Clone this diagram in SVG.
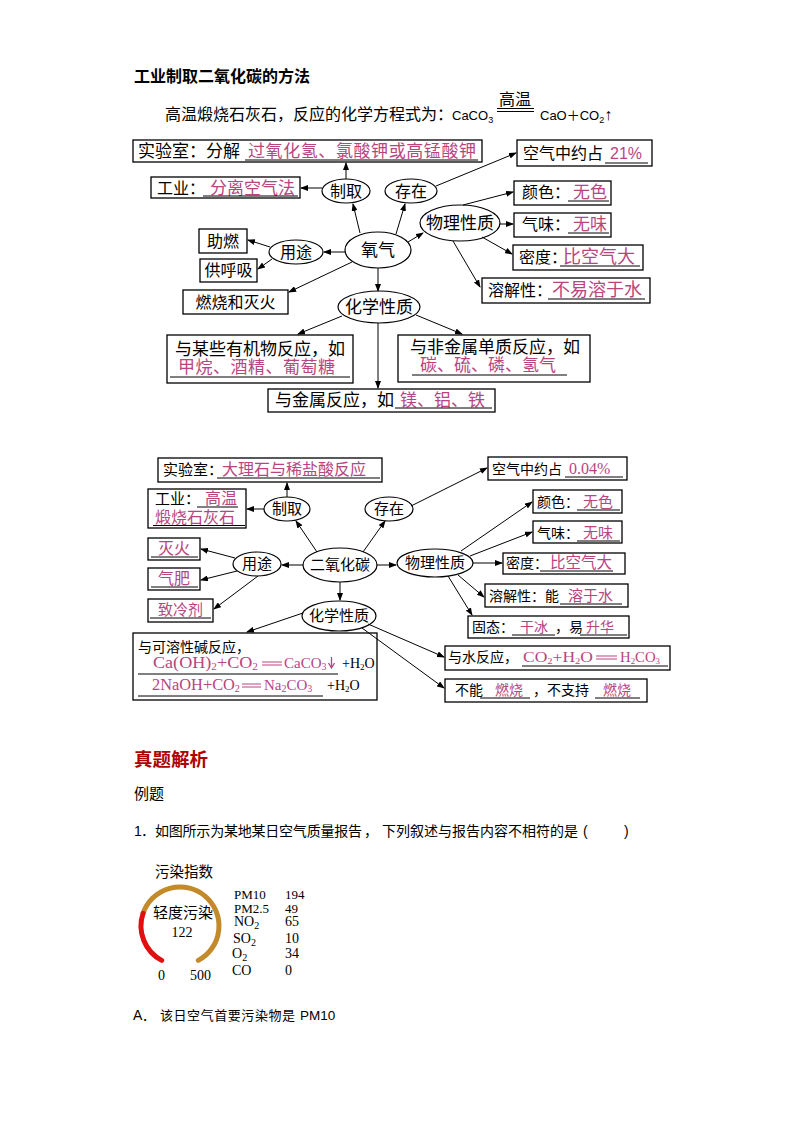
<svg xmlns="http://www.w3.org/2000/svg" width="794" height="1123" viewBox="0 0 794 1123">
<style>
.bx{fill:#fff;stroke:#000;stroke-width:1.3}
.el{fill:#fff;stroke:#000;stroke-width:1.2}
.t{font-family:"Liberation Serif","Noto Sans CJK SC",serif;fill:#000}
.s{font-family:"Liberation Sans","Noto Sans CJK SC",sans-serif;fill:#000}
.m{font-family:"Liberation Sans","Noto Sans CJK SC",sans-serif;fill:#b8457f}
.mc{font-family:"Liberation Serif","Noto Sans CJK SC",serif;fill:#b8457f}
.c{text-anchor:middle}
.ul{stroke:#000;stroke-width:1}
.cn line{stroke:#000;stroke-width:1;marker-end:url(#ah)}
</style>
<defs>
<marker id="ah" markerUnits="userSpaceOnUse" markerWidth="8" markerHeight="6" refX="7" refY="3" orient="auto">
<path d="M0,0 L8,3 L0,6 Z" fill="#000"/>
</marker>
</defs>
<rect width="794" height="1123" fill="#fff"/>

<!-- header -->
<g id="header">
<text class="s" x="134" y="82" font-size="16" font-weight="bold">工业制取二氧化碳的方法</text>
<text class="s" x="165" y="120" font-size="16">高温煅烧石灰石，反应的化学方程式为：</text>
<text class="s" x="452" y="120" font-size="13">CaCO<tspan dy="3" font-size="9">3</tspan></text>
<text class="s" x="515" y="105" font-size="16" text-anchor="middle">高温</text>
<line class="ul" x1="497" y1="108.5" x2="534" y2="108.5"/>
<line class="ul" x1="497" y1="111.5" x2="534" y2="111.5"/>
<text class="s" x="540" y="120" font-size="13">CaO＋CO<tspan dy="3" font-size="9">2</tspan><tspan dy="-3" font-size="16">↑</tspan></text>
</g>

<!-- oxygen diagram nodes -->
<g id="o-lab"><rect class="bx" x="133" y="140" width="349" height="22"/>
<text class="t" x="138" y="157" font-size="17">实验室：分解</text>
<text class="m" x="248" y="157" font-size="17" textLength="228">过氧化氢、氯酸钾或高锰酸钾</text>
<line class="ul" x1="245" y1="160" x2="478" y2="160"/></g>
<g id="o-ind"><rect class="bx" x="151" y="177" width="149" height="21" stroke-width="1.6"/>
<text class="t" x="157" y="194" font-size="16">工业：</text>
<text class="m" x="210" y="194" font-size="17">分离空气法</text>
<line class="ul" x1="203" y1="196" x2="298" y2="196"/></g>
<g id="o-zhiqu"><ellipse class="el" cx="346" cy="191" rx="24" ry="12"/><text class="t c" x="346" y="197" font-size="16">制取</text></g>
<g id="o-cunzai"><ellipse class="el" cx="411" cy="191" rx="26" ry="12"/><text class="t c" x="411" y="197" font-size="16">存在</text></g>
<g id="o-o2"><ellipse class="el" cx="378" cy="250" rx="33" ry="18"/><text class="t c" x="378" y="256" font-size="17">氧气</text></g>
<g id="o-yongtu"><ellipse class="el" cx="296" cy="252" rx="27" ry="12"/><text class="t c" x="296" y="258" font-size="16">用途</text></g>
<g id="o-zhuran"><rect class="bx" x="199" y="229" width="48" height="24"/><text class="t c" x="223" y="247" font-size="16">助燃</text></g>
<g id="o-huxi"><rect class="bx" x="200" y="259" width="57" height="23"/><text class="t c" x="228.5" y="276" font-size="16">供呼吸</text></g>
<g id="o-ranshao"><rect class="bx" x="183" y="290" width="105" height="24"/><text class="t c" x="235.5" y="308" font-size="16">燃烧和灭火</text></g>
<g id="o-wuli"><ellipse class="el" cx="460" cy="223" rx="40" ry="18"/><text class="t c" x="460" y="229" font-size="17">物理性质</text></g>
<g id="o-air"><rect class="bx" x="517" y="140" width="135" height="26"/>
<text class="t" x="523" y="159" font-size="16">空气中约占</text>
<text class="m" x="610" y="159" font-size="16">21%</text>
<line class="ul" x1="605" y1="163" x2="648" y2="163"/></g>
<g id="o-color"><rect class="bx" x="514" y="181" width="97" height="24"/>
<text class="t" x="522" y="198" font-size="16">颜色：</text>
<text class="m" x="573" y="198" font-size="17">无色</text>
<line class="ul" x1="568" y1="201" x2="609" y2="201"/></g>
<g id="o-smell"><rect class="bx" x="514" y="213" width="97" height="24"/>
<text class="t" x="522" y="230" font-size="16">气味：</text>
<text class="m" x="573" y="230" font-size="17">无味</text>
<line class="ul" x1="568" y1="233" x2="609" y2="233"/></g>
<g id="o-density"><rect class="bx" x="513" y="245" width="130" height="25"/>
<text class="t" x="519" y="263" font-size="16">密度：</text>
<text class="m" x="563" y="263" font-size="18">比空气大</text>
<line class="ul" x1="560" y1="266" x2="640" y2="266"/></g>
<g id="o-sol"><rect class="bx" x="482" y="278" width="168" height="25"/>
<text class="t" x="488" y="296" font-size="16">溶解性：</text>
<text class="m" x="552" y="296" font-size="18">不易溶于水</text>
<line class="ul" x1="548" y1="299" x2="645" y2="299"/></g>
<g id="o-huaxue"><ellipse class="el" cx="379" cy="307" rx="41" ry="16"/><text class="t c" x="379" y="313" font-size="17">化学性质</text></g>
<g id="o-organic"><rect class="bx" x="167" y="335" width="186" height="48"/>
<text class="t" x="175" y="355" font-size="17">与某些有机物反应，如</text>
<text class="m" x="178" y="373" font-size="17" textLength="157">甲烷、酒精、葡萄糖</text>
<line class="ul" x1="170" y1="377" x2="350" y2="377"/></g>
<g id="o-nonmetal"><rect class="bx" x="398" y="335" width="192" height="47"/>
<text class="t" x="410" y="353" font-size="17">与非金属单质反应，如</text>
<text class="m" x="420" y="371" font-size="17">碳、硫、磷、氢气</text>
<line class="ul" x1="412" y1="375" x2="567" y2="375"/></g>
<g id="o-metal"><rect class="bx" x="268" y="389" width="227" height="23"/>
<text class="t" x="275" y="406" font-size="17">与金属反应，如</text>
<text class="m" x="400" y="406" font-size="17">镁、铝、铁</text>
<line class="ul" x1="395" y1="408" x2="492" y2="408"/></g>

<!-- CO2 diagram nodes -->
<g id="c-lab"><rect class="bx" x="158" y="458" width="224" height="24"/>
<text class="t" x="163" y="475" font-size="15">实验室：</text>
<text class="m" x="222" y="475" font-size="16">大理石与稀盐酸反应</text>
<line class="ul" x1="217" y1="478" x2="380" y2="478"/></g>
<g id="c-ind"><rect class="bx" x="148" y="489" width="98" height="39" stroke-width="1.6"/>
<text class="t" x="155" y="504" font-size="15">工业：</text>
<text class="m" x="205" y="504" font-size="16">高温</text>
<line class="ul" x1="197" y1="507" x2="238" y2="507"/>
<text class="m" x="155" y="523" font-size="16">煅烧石灰石</text>
<line class="ul" x1="153" y1="525.5" x2="245" y2="525.5"/></g>
<g id="c-zhiqu"><ellipse class="el" cx="287" cy="509" rx="23" ry="12"/><text class="t c" x="287" y="514" font-size="15">制取</text></g>
<g id="c-cunzai"><ellipse class="el" cx="389" cy="509" rx="24" ry="12"/><text class="t c" x="389" y="514" font-size="15">存在</text></g>
<g id="c-co2"><ellipse class="el" cx="340" cy="565" rx="37" ry="17"/><text class="t c" x="340" y="570" font-size="15">二氧化碳</text></g>
<g id="c-yongtu"><ellipse class="el" cx="257" cy="564" rx="24" ry="12"/><text class="t c" x="257" y="569" font-size="15">用途</text></g>
<g id="c-wuli"><ellipse class="el" cx="435" cy="563" rx="38" ry="14"/><text class="t c" x="435" y="568" font-size="15">物理性质</text></g>
<g id="c-miehuo"><rect class="bx" x="148" y="538" width="52" height="22"/>
<text class="m" x="158" y="554" font-size="16">灭火</text>
<line class="ul" x1="151" y1="557" x2="198" y2="557"/></g>
<g id="c-qifei"><rect class="bx" x="148" y="568" width="52" height="22"/>
<text class="m" x="158" y="584" font-size="16">气肥</text>
<line class="ul" x1="151" y1="587" x2="198" y2="587"/></g>
<g id="c-zhileng"><rect class="bx" x="148" y="599" width="65" height="23"/>
<text class="m" x="158" y="615" font-size="15">致冷剂</text>
<line class="ul" x1="150" y1="618" x2="211" y2="618"/></g>
<g id="c-air"><rect class="bx" x="488" y="457" width="139" height="23"/>
<text class="t" x="492" y="474" font-size="14">空气中约占</text>
<text class="mc" x="569" y="474" font-size="16">0.04%</text>
<line class="ul" x1="565" y1="477" x2="623" y2="477"/></g>
<g id="c-color"><rect class="bx" x="533" y="490" width="89" height="23"/>
<text class="t" x="537" y="507" font-size="14">颜色：</text>
<text class="m" x="583" y="507" font-size="15">无色</text>
<line class="ul" x1="577" y1="510" x2="620" y2="510"/></g>
<g id="c-smell"><rect class="bx" x="533" y="521" width="89" height="22"/>
<text class="t" x="537" y="538" font-size="14">气味：</text>
<text class="m" x="583" y="538" font-size="15">无味</text>
<line class="ul" x1="577" y1="541" x2="620" y2="541"/></g>
<g id="c-density"><rect class="bx" x="503" y="553" width="122" height="21"/>
<text class="t" x="506" y="568" font-size="14">密度：</text>
<text class="m" x="550" y="568" font-size="15.5">比空气大</text>
<line class="ul" x1="540" y1="571" x2="613" y2="571"/></g>
<g id="c-sol"><rect class="bx" x="485" y="584" width="143" height="23"/>
<text class="t" x="489" y="601" font-size="14">溶解性：能</text>
<text class="m" x="568" y="601" font-size="15">溶于水</text>
<line class="ul" x1="560" y1="604" x2="622" y2="604"/></g>
<g id="c-solid"><rect class="bx" x="468" y="616" width="161" height="22"/>
<text class="t" x="472" y="632" font-size="14">固态：</text>
<text class="m" x="520" y="632" font-size="14">干冰</text>
<line class="ul" x1="512" y1="635" x2="555" y2="635"/>
<text class="t" x="555" y="632" font-size="14">，易</text>
<text class="m" x="586" y="632" font-size="14">升华</text>
<line class="ul" x1="580" y1="635" x2="627" y2="635"/></g>
<g id="c-water"><rect class="bx" x="445" y="646" width="225" height="24"/>
<text class="t" x="448" y="662" font-size="14">与水反应，</text>
<text class="mc" x="523" y="662" font-size="15" textLength="70" lengthAdjust="spacingAndGlyphs">CO<tspan dy="2" font-size="9">2</tspan><tspan dy="-2">+H</tspan><tspan dy="2" font-size="9">2</tspan><tspan dy="-2">O</tspan></text>
<line stroke="#b8457f" stroke-width="1" x1="596" y1="656" x2="617" y2="656"/>
<line stroke="#b8457f" stroke-width="1" x1="596" y1="659" x2="617" y2="659"/>
<text class="mc" x="620" y="662" font-size="15" textLength="40" lengthAdjust="spacingAndGlyphs">H<tspan dy="2" font-size="9">2</tspan><tspan dy="-2">CO</tspan><tspan dy="2" font-size="9">3</tspan></text>
<line class="ul" x1="522" y1="666" x2="668" y2="666"/></g>
<g id="c-burn"><rect class="bx" x="445" y="679" width="202" height="23"/>
<text class="t" x="455" y="695" font-size="14">不能</text>
<text class="m" x="495" y="695" font-size="14">燃烧</text>
<line class="ul" x1="480" y1="698" x2="530" y2="698"/>
<text class="t" x="533" y="695" font-size="14">，不支持</text>
<text class="m" x="603" y="695" font-size="14">燃烧</text>
<line class="ul" x1="595" y1="698" x2="640" y2="698"/></g>
<g id="c-huaxue"><ellipse class="el" cx="339" cy="616" rx="37" ry="15"/><text class="t c" x="339" y="621" font-size="15">化学性质</text></g>
<g id="c-base"><rect class="bx" x="133" y="633" width="244" height="67"/>
<text class="t" x="138" y="652" font-size="14">与可溶性碱反应，</text>
<text class="mc" x="153" y="668" font-size="16" textLength="105" lengthAdjust="spacingAndGlyphs">Ca(OH)<tspan dy="2" font-size="10">2</tspan><tspan dy="-2">+CO</tspan><tspan dy="2" font-size="10">2</tspan></text>
<line stroke="#b8457f" x1="262" y1="662" x2="282" y2="662"/>
<line stroke="#b8457f" x1="262" y1="665" x2="282" y2="665"/>
<text class="mc" x="284" y="668" font-size="15">CaCO<tspan dy="2" font-size="10">3</tspan></text>
<path d="M331.5,657 V667 M328.5,663 L331.5,668 L334.5,663" stroke="#b8457f" stroke-width="1.3" fill="none"/>
<line class="ul" x1="138" y1="674" x2="338" y2="674"/>
<text class="t" x="342" y="668" font-size="14">+H<tspan dy="2" font-size="9">2</tspan><tspan dy="-2">O</tspan></text>
<text class="mc" x="152" y="690" font-size="16" textLength="88" lengthAdjust="spacingAndGlyphs">2NaOH+CO<tspan dy="2" font-size="10">2</tspan></text>
<line stroke="#b8457f" x1="242" y1="684" x2="261" y2="684"/>
<line stroke="#b8457f" x1="242" y1="687" x2="261" y2="687"/>
<text class="mc" x="264" y="690" font-size="15">Na<tspan dy="2" font-size="10">2</tspan><tspan dy="-2">CO</tspan><tspan dy="2" font-size="10">3</tspan></text>
<line class="ul" x1="138" y1="696" x2="323" y2="696"/>
<text class="t" x="327" y="690" font-size="14">+H<tspan dy="2" font-size="9">2</tspan><tspan dy="-2">O</tspan></text></g>

<!-- connectors -->
<g id="connectors" class="cn">
<line x1="346" y1="179" x2="346" y2="163"/>
<line x1="322" y1="188" x2="301" y2="188"/>
<line x1="360" y1="233" x2="353" y2="204"/>
<line x1="396" y1="234" x2="405" y2="204"/>
<line x1="436" y1="186" x2="516" y2="153"/>
<line x1="408" y1="242" x2="423" y2="233"/>
<line x1="463" y1="205" x2="513" y2="192"/>
<line x1="500" y1="224" x2="513" y2="224"/>
<line x1="482" y1="237" x2="512" y2="254"/>
<line x1="453" y1="241" x2="480" y2="287"/>
<line x1="345" y1="252" x2="324" y2="252"/>
<line x1="270" y1="247" x2="248" y2="240"/>
<line x1="272" y1="259" x2="258" y2="269"/>
<line x1="352" y1="262" x2="289" y2="292"/>
<line x1="378" y1="268" x2="378" y2="291"/>
<line x1="342" y1="316" x2="298" y2="334"/>
<line x1="416" y1="315" x2="462" y2="334"/>
<line x1="378" y1="323" x2="378" y2="388"/>

<line x1="287" y1="497" x2="287" y2="483"/>
<line x1="264" y1="509" x2="247" y2="509"/>
<line x1="317" y1="552" x2="296" y2="521"/>
<line x1="363" y1="552" x2="385" y2="521"/>
<line x1="411" y1="506" x2="487" y2="468"/>
<line x1="303" y1="565" x2="282" y2="565"/>
<line x1="235" y1="558" x2="201" y2="549"/>
<line x1="237" y1="571" x2="201" y2="580"/>
<line x1="258" y1="576" x2="214" y2="609"/>
<line x1="377" y1="565" x2="396" y2="565"/>
<line x1="461" y1="551" x2="532" y2="502"/>
<line x1="470" y1="556" x2="532" y2="532"/>
<line x1="473" y1="563" x2="502" y2="563"/>
<line x1="458" y1="575" x2="484" y2="597"/>
<line x1="448" y1="576" x2="472" y2="615"/>
<line x1="340" y1="582" x2="340" y2="600"/>
<line x1="303" y1="613" x2="247" y2="632"/>
<line x1="368" y1="624" x2="444" y2="657"/>
<line x1="362" y1="628" x2="444" y2="688"/>
</g>

<!-- exercise section -->
<g id="section">
<text class="s" x="134" y="766" font-size="18.5" font-weight="bold" style="fill:#b00000">真题解析</text>
<text class="s" x="134" y="799" font-size="15">例题</text>
<text class="s" x="134" y="836" font-size="14">1</text>
<text class="s" x="141" y="836" font-size="14">．</text>
<text class="s" x="155" y="836" font-size="14" textLength="207">如图所示为某地某日空气质量报告</text>
<text class="s" x="364" y="836" font-size="14">，</text>
<text class="s" x="382" y="836" font-size="14" textLength="196">下列叙述与报告内容不相符的是</text>
<text class="s" x="583" y="836" font-size="14">(</text>
<text class="s" x="624" y="836" font-size="14">)</text>
</g>

<g id="gauge">
<text class="s" x="155" y="877" font-size="14.5">污染指数</text>
<path d="M198.3,960.4 A39,39 0 1 0 143.1,913.3" fill="none" stroke="#c28a2a" stroke-width="5" stroke-linecap="round"/>
<path d="M143.1,913.3 A39,39 0 0 0 161.7,960.4" fill="none" stroke="#e01010" stroke-width="5" stroke-linecap="round"/>
<text class="s" x="153" y="918" font-size="15">轻度污染</text>
<text class="t c" x="182" y="937" font-size="14">122</text>
<text class="t" x="158" y="980" font-size="14">0</text>
<text class="t" x="190" y="980" font-size="14">500</text>
</g>
<g id="table">
<text class="t" x="234" y="899" font-size="13">PM10</text><text class="t" x="285" y="899" font-size="13">194</text>
<text class="t" x="234" y="913" font-size="13">PM2.5</text><text class="t" x="285" y="913" font-size="13">49</text>
<text class="t" x="234" y="926" font-size="14">NO<tspan dy="3" font-size="10">2</tspan></text><text class="t" x="285" y="926" font-size="14">65</text>
<text class="t" x="233" y="943" font-size="14">SO<tspan dy="3" font-size="10">2</tspan></text><text class="t" x="285" y="943" font-size="14">10</text>
<text class="t" x="232" y="958" font-size="14">O<tspan dy="3" font-size="10">2</tspan></text><text class="t" x="285" y="958" font-size="14">34</text>
<text class="t" x="232" y="975" font-size="14">CO</text><text class="t" x="285" y="975" font-size="14">0</text>
</g>
<g id="optionA">
<text class="s" x="133" y="1020" font-size="14">A</text>
<text class="s" x="142" y="1020" font-size="13">．</text>
<text class="s" x="160" y="1020" font-size="13" textLength="135">该日空气首要污染物是</text>
<text class="s" x="300" y="1020" font-size="13.5">PM10</text>
</g>
</svg>
